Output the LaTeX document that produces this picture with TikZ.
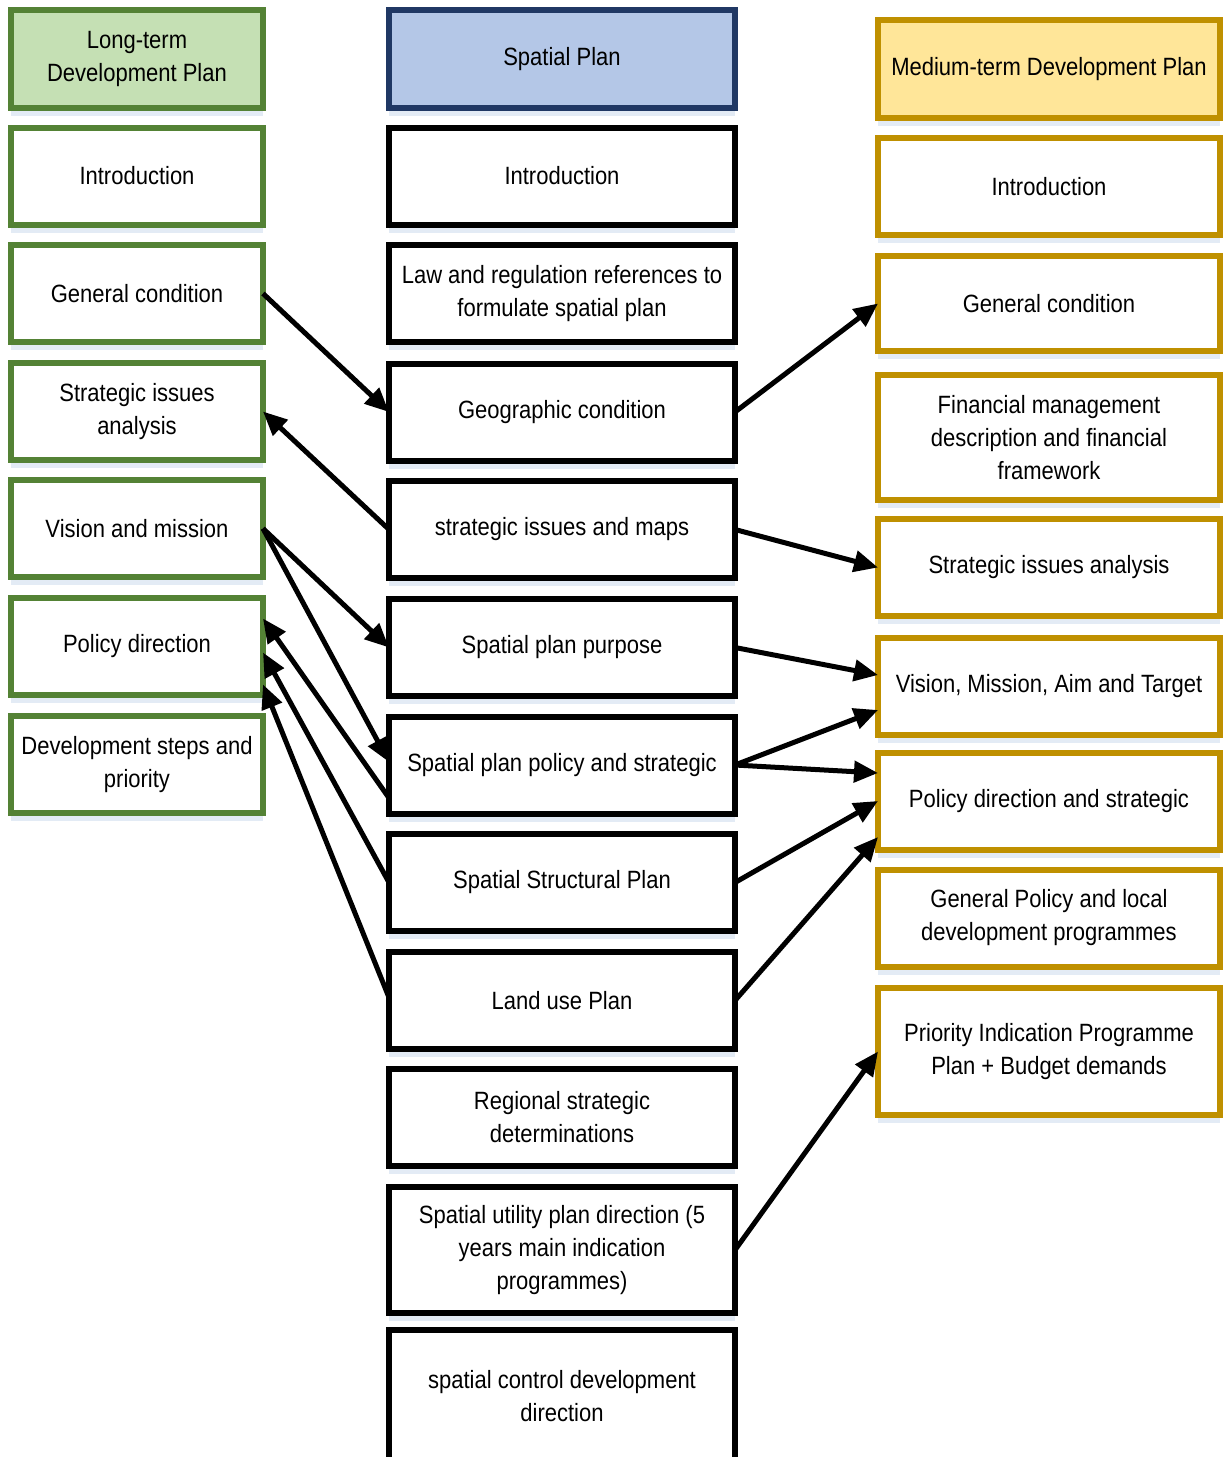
\documentclass[tikz,border=0pt]{standalone}
\usepackage{fontspec}
\setmainfont{Liberation Sans}[FakeStretch=0.88]
\usetikzlibrary{arrows.meta,shadows}

\definecolor{ltgreen}{HTML}{548235}
\definecolor{ltgreenfill}{HTML}{C5E0B4}
\definecolor{spblue}{HTML}{203864}
\definecolor{spbluefill}{HTML}{B4C7E7}
\definecolor{mtgold}{HTML}{BF9000}
\definecolor{mtgoldfill}{HTML}{FFE699}
\definecolor{shadowblue}{HTML}{E3EBF5}

\begin{document}
\begin{tikzpicture}[x=0.5pt,y=-0.5pt,
  box/.style={rectangle, draw, line width=3pt, fill=white, outer sep=0pt,
    inner sep=2pt, align=center, font=\fontsize{12.5}{16.5}\selectfont,
    general shadow={shadow yshift=-4pt, fill=shadowblue}},
  lbox/.style={box, draw=ltgreen, minimum width=126pt, minimum height=48.5pt},
  mbox/.style={box, draw=black, minimum width=173pt, minimum height=48.5pt},
  rbox/.style={box, draw=mtgold, minimum width=171pt, minimum height=48.5pt},
  link/.style={line width=2.5pt, -{Triangle[length=12pt,width=10.5pt]}}
]
\useasboundingbox (0,0) rectangle (1223,1457);
\clip (0,0) rectangle (1223,1457);

% Long-term development plan
\node[lbox, fill=ltgreenfill, minimum height=49pt] (lhead) at (137,58.5) {Long-term\\Development Plan};
\node[lbox] (lintro) at (137,176)   {Introduction};
\node[lbox] (lgen)   at (137,293.5) {General condition};
\node[lbox] (lstrat) at (137,411.5) {Strategic issues\\analysis};
\node[lbox] (lvis)   at (137,528.5) {Vision and mission};
\node[lbox] (lpol)   at (137,646.5) {Policy direction};
\node[lbox] (lsteps) at (137,764.5) {Development steps and\\priority};

% Spatial plan
\node[mbox, draw=spblue, fill=spbluefill, minimum height=49pt] (mhead) at (562,59) {Spatial Plan};
\node[mbox] (mintro)  at (562,176)    {Introduction};
\node[mbox] (mlaw)    at (562,293.5)  {Law and regulation references to\\formulate spatial plan};
\node[mbox] (mgeo)    at (562,412)    {Geographic condition};
\node[mbox] (missues) at (562,529.5)  {strategic issues and maps};
\node[mbox] (mpurp)   at (562,647.5)  {Spatial plan purpose};
\node[mbox] (mpol)    at (562,765)    {Spatial plan policy and strategic};
\node[mbox] (mstruct) at (562,882.5)  {Spatial Structural Plan};
\node[mbox] (mland)   at (562,1000.5) {Land use Plan};
\node[mbox] (mreg)    at (562,1117)   {Regional strategic\\determinations};
\node[mbox, minimum height=63pt] (mutil) at (562,1250) {Spatial utility plan direction (5\\years main indication\\programmes)};
\node[mbox, minimum height=66pt] (mctrl) at (562,1396) {spatial control development\\direction};

% Medium-term development plan
\node[rbox, fill=mtgoldfill, minimum height=49pt] (rhead) at (1049,69) {Medium-term Development Plan};
\node[rbox] (rintro) at (1049,186.5) {Introduction};
\node[rbox, minimum height=47.5pt] (rgen) at (1049,303.5) {General condition};
\node[rbox, minimum height=62.5pt] (rfin) at (1049,437.5) {Financial management\\description and financial\\framework};
\node[rbox] (rstrat) at (1049,567.5) {Strategic issues analysis};
\node[rbox] (rvis)   at (1049,686)   {Vision, Mission, Aim and Target};
\node[rbox] (rpol)   at (1049,801)   {Policy direction and strategic};
\node[rbox] (rgp)    at (1049,918)   {General Policy and local\\development programmes};
\node[rbox, minimum height=63.5pt] (rprio) at (1049,1051.5) {Priority Indication Programme\\Plan + Budget demands};

% links between the long-term plan and the spatial plan
\draw[link] (lgen.east) -- (mgeo.west);
\draw[link] (missues.west) -- (lstrat.east);
\draw[link] (lvis.east) -- (mpurp.west);
\draw[link] (lvis.east) -- ([yshift=1.5pt]mpol.west);
\draw[link] ([yshift=-16.5pt]mpol.west) -- ([yshift=14pt]lpol.east);
\draw[link] (mstruct.west) -- ([yshift=-3pt]lpol.east);
\draw[link] ([yshift=1.5pt]mland.west) -- ([yshift=-19pt]lpol.east);

% links between the spatial plan and the medium-term plan
\draw[link] (mgeo.east) -- (rgen.west);
\draw[link] (missues.east) -- (rstrat.west);
\draw[link] (mpurp.east) -- ([yshift=5.5pt]rvis.west);
\draw[link] (mpol.east) -- ([yshift=-12pt]rvis.west);
\draw[link] (mpol.east) -- ([yshift=14pt]rpol.west);
\draw[link] (mstruct.east) -- (rpol.west);
\draw[link] (mland.east) -- ([yshift=-18pt]rpol.west);
\draw[link] (mutil.east) -- (rprio.west);
\end{tikzpicture}
\end{document}
